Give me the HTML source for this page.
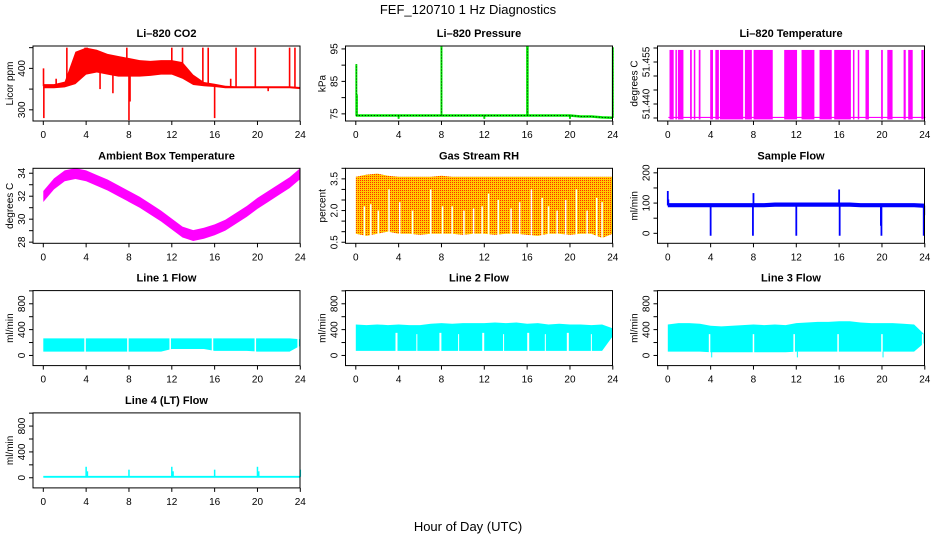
<!DOCTYPE html>
<html><head><meta charset="utf-8"><style>
body{margin:0;background:#fff}
svg{display:block;font-family:"Liberation Sans",Arial,sans-serif}
</style></head><body>
<svg id="fig" width="936" height="540" viewBox="0 0 936 540" xmlns="http://www.w3.org/2000/svg">
<defs>
<pattern id="rhpat" width="2" height="2" patternUnits="userSpaceOnUse">
<rect width="2" height="2" fill="#ffcc00"/><rect width="1" height="1" fill="#ff3000"/>
</pattern>
</defs>
<text x="468" y="14" text-anchor="middle" font-size="13">FEF_120710  1 Hz Diagnostics</text>
<text x="468" y="531" text-anchor="middle" font-size="13">Hour of Day (UTC)</text>
</svg>
<script>
// ---------- data ----------
const hours = [0,1,2,3,4,5,6,7,8,9,10,11,12,13,14,15,16,17,18,19,20,21,22,23,24];
const xTicks = [0,4,8,12,16,20,24];

const co2Hi = [362,362,368,440,450,445,435,430,425,420,418,420,420,415,385,367,363,358,357,357,357,357,357,357,355];
const co2Lo = [352,352,354,362,385,390,385,380,380,380,382,385,385,375,360,357,355,352,352,352,352,352,352,352,350];
const co2SpikeH = [0.02,0.05,2.2,3.9,4.1,7.8,8.0,8.1,12.0,13.0,14.9,15.4,16.0,18.0,19.8,23.0,23.5,1.2,17.5,21.0,5.3,6.5];
const co2SpikeV = [400,280,450,450,450,450,275,320,450,450,450,450,280,450,450,450,450,375,375,345,350,340];

const presBase = [74.5,74.5,74.5,74.5,74.5,74.5,74.5,74.5,74.5,74.5,74.5,74.5,74.5,74.5,74.5,74.5,74.5,74.5,74.5,74.5,74.5,74.2,74.2,73.9,73.8];
const presSpikeH = [0.05,0.1,8.0,16.0,16.05,24.0,4.0,12.0,20.0];
const presSpikeV = [90.3,81,95.8,96,96,95.5,73.5,73.5,73.5];

const t820Low = 51.4352, t820High = 51.4593;
const t820BlockStart = [0.16,0.71,0.94,2.08,2.43,2.89,3.96,4.44,4.87,7.2,8.01,10.87,12.49,14.17,15.54,17.29,17.74,18.46,19.92,20.5,22.02,22.45,23.68];
const t820BlockEnd   = [0.55,0.76,1.46,2.24,2.56,3.05,4.22,4.77,7.04,7.85,9.8,12.07,13.69,15.31,17.1,17.34,17.79,18.78,20.08,20.99,22.22,22.87,23.9];

const ambMid = [32.0,33.1,33.8,34.0,33.8,33.4,33.0,32.5,32.0,31.5,30.9,30.3,29.6,28.9,28.6,28.8,29.1,29.5,30.1,30.7,31.4,32.0,32.6,33.2,34.0];

const rhHi = [3.6,3.7,3.75,3.65,3.6,3.6,3.6,3.6,3.65,3.6,3.6,3.6,3.6,3.6,3.6,3.6,3.6,3.6,3.6,3.6,3.6,3.6,3.6,3.6,3.6];
const rhLo = [0.9,0.8,0.9,1.0,0.9,0.9,0.85,0.9,0.9,0.9,0.85,0.9,0.9,0.85,0.9,0.9,0.85,0.8,0.9,0.9,0.85,0.9,0.9,0.7,0.9];
const rhGapH = [0.8,1.4,2.1,3.1,4.1,5.3,7.0,8.1,9.0,10.1,11.0,11.8,12.4,13.3,14.5,15.3,16.4,17.4,18.0,18.8,19.6,20.6,21.6,22.5,23.0];
const rhGapTop = [2.2,2.3,2.0,3.0,2.4,2.0,3.0,2.2,2.2,2.0,2.1,2.2,2.8,2.5,2.1,2.4,3.0,2.6,2.2,2.0,2.5,3.0,2.0,2.6,2.4];

const sfHi = [100,100,100,100,100,100,100,100,100,100,102,102,102,102,102,102,102,102,100,100,100,100,100,100,98];
const sfLo = [86,86,86,86,86,86,86,86,86,86,88,88,88,88,88,88,88,88,86,86,86,86,86,86,84];
const sfSpikeH = [0.0,0.05,4.0,8.0,7.95,12.0,16.0,16.05,19.95,19.9,23.9,23.95];
const sfSpikeV = [140,112,-8,133,-8,-8,145,-8,-8,25,-8,60];

const l1Hi = [265,265,265,265,265,265,265,265,265,265,265,265,265,265,265,265,265,265,265,265,265,265,265,265,250];
const l1Lo = [60,60,60,60,60,60,60,60,60,60,60,60,100,100,100,100,70,70,70,70,60,60,60,60,150];
const l1GapH = [3.9,7.9,11.85,15.8,19.8,23.8];

const l2Hi = [480,470,480,470,480,470,470,490,500,490,500,500,500,510,500,510,490,500,480,490,480,480,470,480,420];
const l2Lo = [70,70,70,70,70,70,70,70,70,70,70,70,70,70,70,70,70,70,70,70,70,70,70,70,300];
const l2GapH = [3.8,7.9,11.9,16.1,19.8,5.7,9.6,13.8,17.7,22.0];
const l2GapTop = [350,350,350,350,350,330,330,330,330,330];

const l3Hi = [480,500,500,490,460,450,460,470,480,470,480,470,500,510,520,520,530,530,510,500,500,500,490,480,320];
const l3Lo = [60,60,60,60,50,50,50,50,50,50,50,50,60,60,60,60,60,60,60,60,60,60,60,60,200];
const l3GapH = [3.9,8.0,11.8,15.9,20.0,23.8];
const l3DipH = [4.0,12.0,20.0];
const l3DipV = [-30,-30,-30];

const l4Base = [15,15,15,15,15,15,15,15,15,15,15,15,15,15,15,15,15,15,15,15,15,15,15,15,15];
const l4SpikeH = [4.0,4.12,8.0,12.0,12.12,16.0,20.0,20.12,24.0];
const l4SpikeV = [170,100,125,170,100,125,170,100,125];

// ---------- helpers ----------
const svg = document.getElementById('fig');
const NS = 'http://www.w3.org/2000/svg';
function mk(tag, attrs, parent){
  const e = document.createElementNS(NS, tag);
  for (const k in attrs) e.setAttribute(k, attrs[k]);
  (parent||svg).appendChild(e);
  return e;
}
const colLeft = [33, 345.5, 657.5];
const boxW = 267, boxH = 75;
function panel(col,row,ymin,ymax,yTicks,yLabels,title,ylab,name){
  const L = colLeft[col], T = 46 + row*122.3;
  const g = mk('g',{});
  
  
  const sx = h => L + 10.3 + h*(257/24);
  const sy = v => T + boxH - (v-ymin)/(ymax-ymin)*boxH;
  const plot = mk('g',{},g);
  
  
  const box = mk('rect',{x:L,y:T,width:boxW,height:boxH,fill:'none',stroke:'#000','stroke-width':1},g);
  
  
  const tt = mk('text',{x:L+boxW/2,y:T-9,'text-anchor':'middle','font-size':11,'font-weight':'bold'},g);
  tt.textContent = title;
  
  
  const xa = mk('g',{},g);
  
  
  xTicks.forEach(t=>{
    mk('line',{x1:sx(t),x2:sx(t),y1:T+boxH,y2:T+boxH+4,stroke:'#000'},xa);
    const tx = mk('text',{x:sx(t),y:T+boxH+17,'text-anchor':'middle','font-size':10},xa);
    tx.textContent = t;
    
    
  });
  const ya = mk('g',{},g);
  
  
  yTicks.forEach(t=>{
    const y = sy(t);
    if (y < T-0.5 || y > T+boxH+0.5) return;
    mk('line',{x1:L-4,x2:L,y1:y,y2:y,stroke:'#000'},ya);
  });
  yLabels.forEach(t=>{
    const y = sy(+t);
    const tx = mk('text',{x:0,y:0,'text-anchor':'middle','font-size':10,transform:`translate(${L-8},${y}) rotate(-90)`},ya);
    tx.textContent = t;
    
    
  });
  const yl = mk('text',{x:0,y:0,'text-anchor':'middle','font-size':10,transform:`translate(${L-20},${T+boxH/2}) rotate(-90)`},g);
  yl.textContent = ylab;
  
  
  return {sx,sy,g:plot,T,L};
}
function band(p,hs,lo,hi,fill,name){
  let d = 'M'+hs.map((h,i)=>p.sx(h)+','+p.sy(hi[i])).join('L');
  d += 'L'+hs.slice().reverse().map((h,i)=>p.sx(h)+','+p.sy(lo[hs.length-1-i])).join('L')+'Z';
  const e = mk('path',{d,fill,stroke:'none'},p.g);
  
  
  return e;
}
function vline(p,h,v1,v2,color,w,name){
  const e = mk('line',{x1:p.sx(h),x2:p.sx(h),y1:p.sy(v1),y2:p.sy(v2),stroke:color,'stroke-width':w},p.g);
  
  
  return e;
}
function interp(arr,h){
  const i = Math.min(23, Math.floor(h));
  const f = h - i;
  return arr[i]*(1-f)+arr[i+1]*f;
}
const flowTicks = [-200,0,200,400,600,800,1000];
const flowLabels = ['0','400','800'];

// ---------- CO2 ----------
let p = panel(0,0,273,454,[300,350,400,450],['300','400'],'Li–820 CO2','Licor ppm','co2');
band(p,hours,co2Lo,co2Hi,'#ff0000','co2-band');
co2SpikeH.forEach((h,i)=>vline(p,h,(interp(co2Lo,h)+interp(co2Hi,h))/2,co2SpikeV[i],'#ff0000',1.6,'co2-spike'));

// ---------- Pressure ----------
p = panel(1,0,72.8,95.9,[75,80,85,90,95],['75','85','95'],'Li–820 Pressure','kPa','pressure');
const pl = mk('polyline',{points:hours.map((h,i)=>p.sx(h)+','+p.sy(presBase[i])).join(' '),fill:'none',stroke:'#00ee00','stroke-width':2.5},p.g);


const pl2 = mk('polyline',{points:hours.map((h,i)=>p.sx(h)+','+p.sy(presBase[i])).join(' '),fill:'none',stroke:'#000','stroke-width':1,'stroke-dasharray':'1 2'},p.g);


presSpikeH.forEach((h,i)=>{
  vline(p,h,interp(presBase,h),presSpikeV[i],'#00ee00',2,'pressure-spike');
  vline(p,h,interp(presBase,h),presSpikeV[i],'#000',0.8,'pressure-spike-dots').setAttribute('stroke-dasharray','1 2');
});

// ---------- Li-820 Temperature ----------
p = panel(2,0,51.43393,51.46071,[51.435,51.440,51.445,51.450,51.455,51.460],['51.440','51.455'],'Li–820 Temperature','degrees C','li820-temp');
const tl = mk('line',{x1:p.sx(0.05),x2:p.sx(24.05),y1:p.sy(t820Low),y2:p.sy(t820Low),stroke:'#ff00ff','stroke-width':1.2},p.g);


t820BlockStart.forEach((s,i)=>{
  const x1 = p.sx(s), x2 = Math.max(p.sx(t820BlockEnd[i]), x1+1.5);
  const r = mk('rect',{x:x1,y:p.sy(t820High),width:x2-x1,height:p.sy(t820Low)-p.sy(t820High)+2,fill:'#ff00ff'},p.g);
  
  
});

// ---------- Ambient Box Temperature ----------
p = panel(0,1,27.9,34.43,[28,29,30,31,32,33,34],['28','30','32','34'],'Ambient Box Temperature','degrees C','ambient-temp');
band(p,hours,ambMid.map(v=>v-0.5),ambMid.map(v=>v+0.45),'#ff00ff','ambient-temp-band');

// ---------- Gas Stream RH ----------
p = panel(1,1,0.45,4.0,[0.5,1,1.5,2,2.5,3,3.5,4],['0.5','2.0','3.5'],'Gas Stream RH','percent','gas-rh');
band(p,hours,rhLo,rhHi,'url(#rhpat)','gas-rh-band');
rhGapH.forEach((h,i)=>vline(p,h,0.45,rhGapTop[i],'#fff',1.5,'gas-rh-gap'));

// ---------- Sample Flow ----------
p = panel(2,1,-33,215,[0,50,100,150,200],['0','100','200'],'Sample Flow','ml/min','sample-flow');
band(p,hours,sfLo,sfHi,'#0000ff','sample-flow-band');
sfSpikeH.forEach((h,i)=>vline(p,h,92,sfSpikeV[i],'#0000ff',1.8,'sample-flow-spike'));

// ---------- Line 1 ----------
p = panel(0,2,-157,1004,flowTicks,flowLabels,'Line 1 Flow','ml/min','line1');
band(p,hours,l1Lo,l1Hi,'#00ffff','line1-band');
l1GapH.forEach(h=>vline(p,h,l1Lo[0]-5,l1Hi[0]+10,'#fff',1.5,'line1-gap'));

// ---------- Line 2 ----------
p = panel(1,2,-157,1004,flowTicks,flowLabels,'Line 2 Flow','ml/min','line2');
band(p,hours,l2Lo,l2Hi,'#00ffff','line2-band');
l2GapH.forEach((h,i)=>vline(p,h,l2Lo[0]-5,l2GapTop[i],'#fff',i<5?2:1,'line2-gap'));

// ---------- Line 3 ----------
p = panel(2,2,-157,1004,flowTicks,flowLabels,'Line 3 Flow','ml/min','line3');
band(p,hours,l3Lo,l3Hi,'#00ffff','line3-band');
l3GapH.forEach(h=>vline(p,h,40,330,'#fff',1.5,'line3-gap'));
l3DipH.forEach((h,i)=>vline(p,h+0.1,60,l3DipV[i],'#00ffff',1,'line3-dip'));

// ---------- Line 4 ----------
p = panel(0,3,-157,1004,flowTicks,flowLabels,'Line 4 (LT) Flow','ml/min','line4');
band(p,hours,l4Base.map(v=>v-15),l4Base.map(v=>v+15),'#00ffff','line4-band');
l4SpikeH.forEach((h,i)=>vline(p,h,15,l4SpikeV[i],'#00ffff',1.5,'line4-spike'));
</script>
</body></html>
